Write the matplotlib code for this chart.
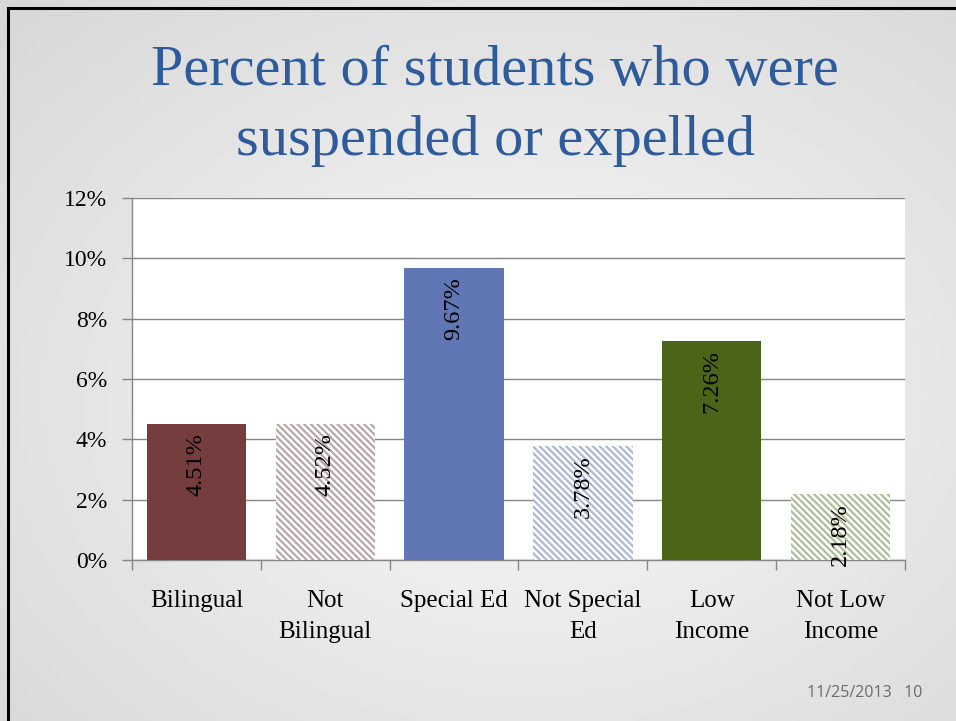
import numpy as np
import matplotlib
matplotlib.use("Agg")
import matplotlib.pyplot as plt
from matplotlib.lines import Line2D

categories = ["Bilingual", "Not\nBilingual", "Special Ed", "Not Special\nEd", "Low\nIncome", "Not Low\nIncome"]
values = [4.51, 4.52, 9.67, 3.78, 7.26, 2.18]
labels = ["4.51%", "4.52%", "9.67%", "3.78%", "7.26%", "2.18%"]
yticks = [0, 2, 4, 6, 8, 10, 12]
ytick_labels = ["0%", "2%", "4%", "6%", "8%", "10%", "12%"]

solid_colors = ["#763D3E", None, "#6176B4", None, "#4A6418", None]
hatch_colors = [None, "#B5A2A4", None, "#A9B3D5", None, "#AABA93"]

plt.rcParams["hatch.linewidth"] = 1.5
serif = ["Liberation Serif", "DejaVu Serif"]

fig = plt.figure(figsize=(9.56, 7.21), dpi=100)

# slide background gradient
bg = fig.add_axes([0, 0, 1, 1], zorder=-10)
yy, xx = np.mgrid[0:1:200j, 0:1:260j]
r = np.sqrt(((xx - 0.55) / 0.75) ** 2 + ((yy - 0.55) / 0.75) ** 2)
grad = 0.975 - 0.13 * np.clip(r, 0, 1.2)
bg.imshow(grad, cmap="gray", vmin=0, vmax=1, extent=[0, 1, 0, 1], aspect="auto", origin="upper")
bg.set_axis_off()

# border lines
fig.add_artist(Line2D([7.5 / 956, 1], [1 - 8 / 721, 1 - 8 / 721], color="black", lw=2.2, transform=fig.transFigure))
fig.add_artist(Line2D([8 / 956, 8 / 956], [0, 1 - 8 / 721], color="black", lw=2.2, transform=fig.transFigure))

ax = fig.add_axes([132 / 956, 161 / 721, (905 - 132) / 956, (560 - 198) / 721])
ax.set_facecolor("white")
x = np.arange(len(categories))
for i, v in enumerate(values):
    if solid_colors[i] is not None:
        ax.bar(x[i], v, width=0.77, color=solid_colors[i], zorder=3)
    else:
        ax.bar(x[i], v, width=0.77, facecolor="white", edgecolor=hatch_colors[i],
               hatch="\\" * 5, linewidth=0, zorder=3)
    ax.annotate(labels[i], (x[i], v), xytext=(0, -6.5), textcoords="offset points",
                rotation=90, ha="center", va="top", fontsize=17.5, family=serif,
                color="black", zorder=4)

ax.set_xlim(-0.5, len(categories) - 0.5)
ax.set_ylim(0, 12)
ax.set_yticks(yticks)
ax.set_yticklabels(ytick_labels, fontsize=17, family=serif)
ax.yaxis.grid(True, color="#868686", lw=1.0, zorder=0)
ax.set_axisbelow(True)
ax.set_xticks(x)
ax.set_xticklabels(categories, fontsize=18, family=serif, linespacing=1.55, va="top")
ax.tick_params(axis="x", length=0, pad=21.5)
ax.set_xticks(np.arange(-0.5, len(categories)), minor=True)
ax.tick_params(axis="x", which="minor", length=7, width=1, color="#868686")
ax.tick_params(axis="y", length=7, width=1, color="#868686", pad=11)
for s in ["top", "right"]:
    ax.spines[s].set_visible(False)
for s in ["left", "bottom"]:
    ax.spines[s].set_color("#868686")
    ax.spines[s].set_linewidth(1.0)

title_color = "#2E5B9C"
fig.text(495 / 956, 1 - 85 / 721, "Percent of students who were",
         ha="center", va="baseline", fontsize=42, color=title_color, family=serif)
fig.text(495 / 956, 1 - 155 / 721, "suspended or expelled",
         ha="center", va="baseline", fontsize=42, color=title_color, family=serif)

fig.text(922 / 956, 1 - 693 / 721, "11/25/2013   10", ha="right", va="center",
         fontsize=11.5, color="#6a6a6a", family=["Open Sans", "DejaVu Sans"])

fig.savefig("out.png", dpi=100)
